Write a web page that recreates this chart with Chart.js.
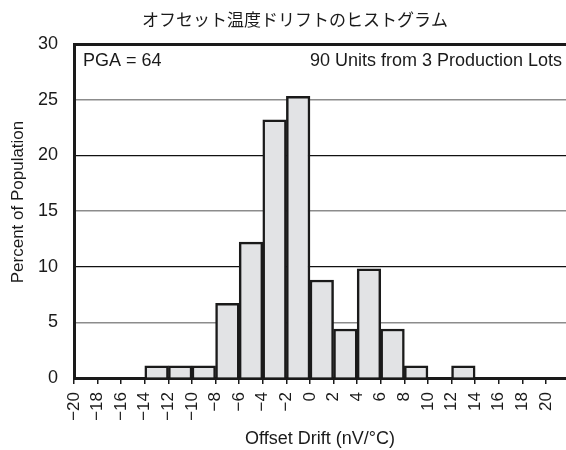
<!DOCTYPE html>
<html>
<head>
<meta charset="utf-8">
<script src="https://cdn.jsdelivr.net/npm/chart.js@4/dist/chart.umd.min.js"></script>
<style>
  html, body { margin: 0; padding: 0; background: #fff; }
</style>
</head>
<body>
<canvas id="chart" width="566" height="450"></canvas>
<script>
// Histogram bins: lower edge of each 2 nV/°C bin
const binStarts = [-20, -18, -16, -14, -12, -10, -8, -6, -4, -2, 0, 2, 4, 6, 8, 10, 12, 14, 16, 18];
const binWidth = 2;
// Percent of the 90 units that fall in each bin
const percent = [0, 0, 0, 1.1, 1.1, 1.1, 6.7, 12.2, 23.2, 25.3, 8.8, 4.4, 9.8, 4.4, 1.1, 0, 1.1, 0, 0, 0];
// Axis tick values
const xTicks = [-20, -18, -16, -14, -12, -10, -8, -6, -4, -2, 0, 2, 4, 6, 8, 10, 12, 14, 16, 18, 20];
const yTicks = [0, 5, 10, 15, 20, 25, 30];

const titleText = 'オフセット温度ドリフトのヒストグラム';
const yTitle = 'Percent of Population';
const xTitle = 'Offset Drift (nV/°C)';
const noteLeft = 'PGA = 64';
const noteRight = '90 Units from 3 Production Lots';

const SANS = '"Liberation Sans", Arial, Helvetica, sans-serif';
const INK = '#1a1a1a';

const fmt = v => (v < 0 ? '\u2212' + Math.abs(v) : String(v));

const histData = binStarts.map((s, i) => ({ x: s + binWidth / 2, y: percent[i] }));

// Chart title, rotated y-axis title and the two notes inside the plot
const textPlugin = {
  id: 'texts',
  afterDraw(chart) {
    const { ctx, chartArea } = chart;
    ctx.save();
    ctx.fillStyle = INK;
    ctx.textBaseline = 'middle';
    ctx.font = '17px "Noto Sans CJK JP", sans-serif';
    ctx.textAlign = 'center';
    ctx.fillText(titleText, chart.width / 2 + 12, 20);

    ctx.font = '18px ' + SANS;
    ctx.textAlign = 'left';
    ctx.fillText(noteLeft, chartArea.left + 9, chartArea.top + 17);
    ctx.textAlign = 'right';
    ctx.fillText(noteRight, chartArea.right - 4, chartArea.top + 17);

    ctx.save();
    ctx.translate(18, (chartArea.top + chartArea.bottom) / 2 - 9);
    ctx.rotate(-Math.PI / 2);
    ctx.font = '17px ' + SANS;
    ctx.textAlign = 'center';
    ctx.fillText(yTitle, 0, 0);
    ctx.restore();
    ctx.restore();
  }
};

new Chart(document.getElementById('chart'), {
  type: 'bar',
  data: {
    datasets: [{
      data: histData,
      backgroundColor: '#e2e3e5',
      borderColor: INK,
      borderWidth: 2.5,
      barPercentage: 1,
      categoryPercentage: 1,
      grouped: false
    }]
  },
  options: {
    responsive: false,
    devicePixelRatio: 1,
    animation: false,
    layout: { padding: { top: 44, right: 0, left: 0, bottom: 0 } },
    plugins: {
      legend: { display: false },
      tooltip: { enabled: false },
      title: { display: false }
    },
    scales: {
      x: {
        type: 'linear',
        min: -20,
        max: 21.7,
        offset: false,
        z: 1,
        afterBuildTicks: s => { s.ticks = xTicks.map(v => ({ value: v })); },
        afterFit: s => { s.height = 72; s.paddingLeft = 0; s.paddingRight = 0; },
        grid: {
          offset: false,
          drawOnChartArea: false,
          drawTicks: true,
          tickLength: 6,
          color: INK,
          lineWidth: 1.5
        },
        border: { display: true, color: INK, width: 3 },
        ticks: {
          autoSkip: false,
          minRotation: 90,
          maxRotation: 90,
          padding: 8,
          color: INK,
          font: { family: SANS, size: 17 },
          callback: v => fmt(v)
        },
        title: {
          display: true,
          text: xTitle,
          color: INK,
          font: { family: SANS, size: 18 },
          padding: { top: 4, bottom: 0 }
        }
      },
      y: {
        min: 0,
        max: 30,
        afterBuildTicks: s => { s.ticks = yTicks.map(v => ({ value: v })); },
        afterFit: s => { s.width = 74; },
        grid: {
          drawTicks: false,
          color: c => {
            const v = c.tick ? c.tick.value : 0;
            if (v === 0) return 'rgba(0,0,0,0)';
            if (v === 30) return INK;
            return v % 10 === 0 ? '#111' : '#8c8c8c';
          },
          lineWidth: c => {
            const v = c.tick ? c.tick.value : 0;
            if (v === 30) return 3;
            return v % 10 === 0 ? 1.2 : 1.6;
          }
        },
        border: { display: true, color: INK, width: 3 },
        ticks: {
          padding: 16,
          color: INK,
          font: { family: SANS, size: 18 },
          callback: v => fmt(v)
        },
        title: { display: false }
      }
    }
  },
  plugins: [textPlugin]
});
</script>
</body>
</html>
